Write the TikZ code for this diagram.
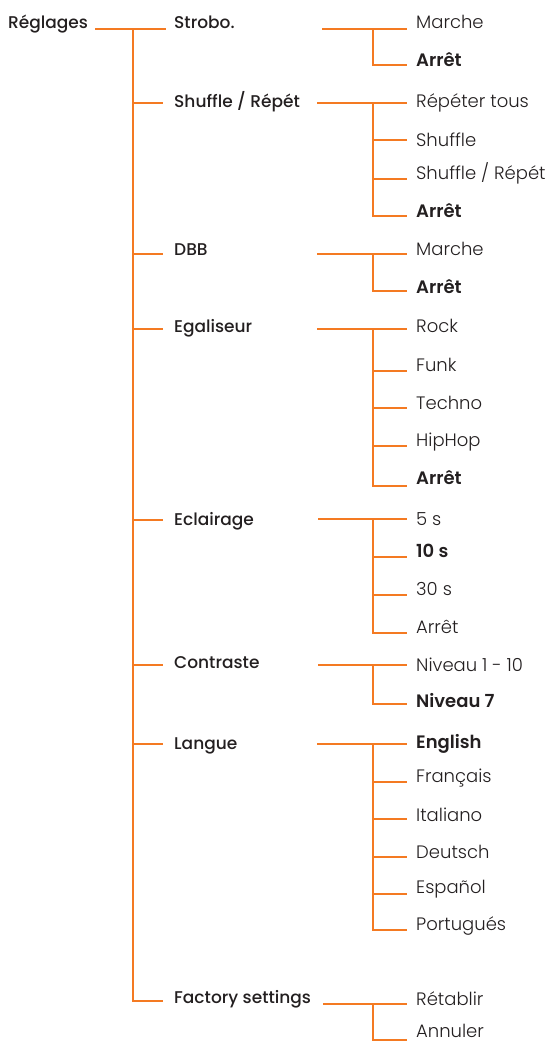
\documentclass[tikz,border=0pt]{standalone}
\usepackage{fontspec}
\setmainfont{Poppins Light}[BoldFont=Poppins SemiBold]
\newfontfamily\medfont{Poppins Medium}
\definecolor{branch}{HTML}{F47A22}
\definecolor{ink}{HTML}{231F20}
\begin{document}
\begin{tikzpicture}[x=1pt,y=-1pt,
  wire/.style={draw=branch,line width=2.8pt},
  top/.style={anchor=base west,inner sep=0pt,text=ink,font=\medfont\fontsize{17}{19}\selectfont},
  leaf/.style={anchor=base west,inner sep=0pt,text=ink,font=\fontsize{18}{20}\selectfont},
  sel/.style={leaf,font=\bfseries\fontsize{18}{20}\selectfont}]
\useasboundingbox (0,0) rectangle (557,1042);

% root
\node[top] (root) at (8,28) {Réglages};
\coordinate (r0) at (95,29);
\coordinate (t0) at (133,29);
\coordinate (t1) at (133,1001);
\draw[wire] (r0) -- (166,29);
\draw[wire,line cap=rect] (t0) -- (t1);

% first level
\foreach \n/\y/\ty/\txt in {strobo/29/28/{Strobo.},shuf/103/107/{Shuffle / Répét},dbb/254/255/{DBB},
  egal/329/332/{Egaliseur},ecl/520/525/{Eclairage},contr/665/668/{Contraste},
  lang/744/749/{Langue},fact/1001/1003/{Factory settings}}{
  \coordinate (s-\n) at (133,\y);
  \coordinate (e-\n) at (163,\y);
  \node[top] (\n) at (174,\ty) {\txt};
  \draw[wire] (s-\n) -- (e-\n);
}

% second level: feed line from #2 at height #3, then the children
\newcommand\subtree[4]{%
  \coordinate (f-#1) at (#2,#3);
  \coordinate (j-#1) at (373,#3);
  \draw[wire] (f-#1) -- (407,#3);
  \foreach \cy/\ty/\st/\txt [count=\i] in {#4}{
    \coordinate (c-#1-\i) at (373,\cy);
    \coordinate (d-#1-\i) at (407,\cy);
    \node[\st] (n-#1-\i) at (416,\ty) {\txt};
    \draw[wire] (c-#1-\i) -- (d-#1-\i);
    \draw[wire,line cap=rect] (j-#1) -- (c-#1-\i);
  }}

\subtree{strobo}{322}{29}{29/28/leaf/{Marche},65/66/sel/{Arrêt}}
\subtree{shuf}{317}{103}{103/107/leaf/{Répéter tous},140/146/leaf/{Shuffle},179/179/leaf/{Shuffle / Répét},216/217/sel/{Arrêt}}
\subtree{dbb}{317}{254}{254/255/leaf/{Marche},291/293/sel/{Arrêt}}
\subtree{egal}{317}{329}{329/332/leaf/{Rock},371/371/leaf/{Funk},408/409/leaf/{Techno},446/446/leaf/{HipHop},486/484/sel/{Arrêt}}
\subtree{ecl}{318}{519}{519/525/leaf/{5 s},557/557/sel/{10 s},595/595/leaf/{30 s},633/633/leaf/{Arrêt}}
\subtree{contr}{318}{665}{665/671/leaf/{Niveau 1 - 10},704/707/sel/{Niveau 7}}
\subtree{lang}{317}{744}{744/748/sel/{English},782/782/leaf/{Français},819/821/leaf/{Italiano},857/858/leaf/{Deutsch},894/893/leaf/{Español},930/930/leaf/{Portugués}}
\subtree{fact}{323}{1004}{1004/1005/leaf/{Rétablir},1040/1037/leaf/{Annuler}}
\end{tikzpicture}
\end{document}
